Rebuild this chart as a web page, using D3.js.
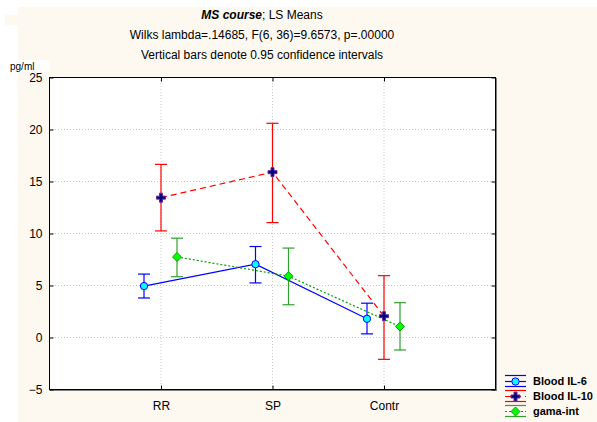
<!DOCTYPE html>
<html>
<head>
<meta charset="utf-8">
<script src="https://cdn.jsdelivr.net/npm/d3@7"></script>
<style>
  body { margin: 0; background: #fff; }
  svg { display: block; font-family: "Liberation Sans", Arial, sans-serif; }
</style>
</head>
<body>
<svg id="chart" width="597" height="422"></svg>
<script>
// data
const categories = ["RR", "SP", "Contr"];
const yTicks = [-5, 0, 5, 10, 15, 20, 25];

const il6Mean = [4.9, 7.0, 1.75],
    il6Lo = [3.75, 5.2, 0.3],
    il6Hi = [6.05, 8.7, 3.25];

const il10Mean = [13.4, 15.85, 2.0],
    il10Lo = [10.2, 11.0, -2.15],
    il10Hi = [16.6, 20.55, 5.9];

const gamaMean = [7.7, 5.85, 1.0],
    gamaLo = [5.8, 3.1, -1.25],
    gamaHi = [9.5, 8.55, 3.3];

const svg = d3.select("#chart"),
    margin = { top: 77, right: 102, bottom: 33, left: 49 },
    width = +svg.attr("width") - margin.left - margin.right,
    height = +svg.attr("height") - margin.top - margin.bottom;

// cream page background
svg.append("rect").attr("x", 18).attr("y", 7).attr("width", 579).attr("height", 415).attr("fill", "#fdf8f0");
svg.append("rect").attr("x", 5).attr("y", 15).attr("width", 14).attr("height", 10).attr("fill", "#fdf8f0");

const x = d3.scalePoint().domain(categories).range([0, width]).padding(1),
    y = d3.scaleLinear().domain([-5, 25]).range([height, 0]);

const g = svg.append("g").attr("transform", "translate(" + margin.left + "," + margin.top + ")");

g.append("rect").attr("width", width).attr("height", height).attr("fill", "#fff");

// grid
g.selectAll(".hgrid")
    .data(yTicks.filter(d => d > -5 && d < 25))
    .enter().append("line")
    .attr("x1", 0).attr("x2", width)
    .attr("y1", d => y(d) + 0.5).attr("y2", d => y(d) + 0.5)
    .attr("stroke", "#c8c8c8").attr("stroke-dasharray", "1,2");
g.selectAll(".vgrid")
    .data(categories)
    .enter().append("line")
    .attr("x1", d => x(d) + 0.5).attr("x2", d => x(d) + 0.5)
    .attr("y1", 0).attr("y2", height)
    .attr("stroke", "#c8c8c8").attr("stroke-dasharray", "1,2");

// frame with shadow
g.append("line").attr("x1", width + 1.5).attr("x2", width + 1.5).attr("y1", 1).attr("y2", height + 1).attr("stroke", "#808080");
g.append("line").attr("x1", 1).attr("x2", width + 2).attr("y1", height + 1.5).attr("y2", height + 1.5).attr("stroke", "#808080");
g.append("rect").attr("x", 0.5).attr("y", 0.5).attr("width", width).attr("height", height)
    .attr("fill", "none").attr("stroke", "#000");

// axes
const yAxis = g.append("g").attr("transform", "translate(0.5,0.5)")
    .call(d3.axisLeft(y).tickValues(yTicks).tickSize(-4).tickPadding(7));
const yAxisR = g.append("g").attr("transform", "translate(" + (width + 0.5) + ",0.5)")
    .call(d3.axisRight(y).tickValues(yTicks).tickSize(-4).tickFormat(""));
const xAxis = g.append("g").attr("transform", "translate(0.5," + (height + 0.5) + ")")
    .call(d3.axisBottom(x).tickSize(-4).tickPadding(12));
const xAxisT = g.append("g").attr("transform", "translate(0.5,0.5)")
    .call(d3.axisTop(x).tickSize(-4).tickFormat(""));
[yAxis, yAxisR, xAxis, xAxisT].forEach(a => {
    a.select(".domain").remove();
    a.selectAll("text").attr("font-size", 12).attr("font-family", "Liberation Sans, Arial, sans-serif").attr("fill", "#000");
});

// series
const diamond = { draw: (ctx, size) => { const r = Math.sqrt(size / 2); ctx.moveTo(0, -r); ctx.lineTo(r, 0); ctx.lineTo(0, r); ctx.lineTo(-r, 0); ctx.closePath(); } };
const series = [
    { name: "Blood IL-6", mean: il6Mean, lo: il6Lo, hi: il6Hi, dx: -17, line: "#0000ff", bar: "#0000ff",
      dash: null, symbol: d3.symbolCircle, size: 42, fill: "#00ffff", stroke: "#0000ff" },
    { name: "Blood IL-10", mean: il10Mean, lo: il10Lo, hi: il10Hi, dx: 0, line: "#ff0000", bar: "#ff0000",
      dash: "6,4", symbol: d3.symbolCross, size: 45, fill: "#000080", stroke: "#6a2a9a" },
    { name: "gama-int", mean: gamaMean, lo: gamaLo, hi: gamaHi, dx: 16, line: "#00a000", bar: "#30a030",
      dash: "2,2", symbol: diamond, size: 40, fill: "#00ff00", stroke: "#00a000" }
];

series.forEach(s => {
    const pts = categories.map((c, i) => ({ x: x(c) + s.dx + 0.5, m: s.mean[i], lo: s.lo[i], hi: s.hi[i] }));
    const line = d3.line().x(d => d.x).y(d => y(d.m));
    g.append("path").datum(pts).attr("d", line)
        .attr("fill", "none").attr("stroke", s.line).attr("stroke-width", 1.2)
        .attr("stroke-dasharray", s.dash);

    const eb = g.selectAll(null).data(pts).enter().append("g").attr("stroke", s.bar).attr("stroke-width", 1.2);
    eb.append("line").attr("x1", d => d.x).attr("x2", d => d.x).attr("y1", d => y(d.lo)).attr("y2", d => y(d.hi));
    eb.append("line").attr("x1", d => d.x - 6).attr("x2", d => d.x + 6).attr("y1", d => y(d.lo)).attr("y2", d => y(d.lo));
    eb.append("line").attr("x1", d => d.x - 6).attr("x2", d => d.x + 6).attr("y1", d => y(d.hi)).attr("y2", d => y(d.hi));
});

series.forEach(s => {
    const sym = d3.symbol().type(s.symbol).size(s.size);
    g.selectAll(null).data(categories).enter().append("path")
        .attr("d", sym)
        .attr("transform", (c, i) => "translate(" + (x(c) + s.dx + 0.5) + "," + y(s.mean[i]) + ")")
        .attr("fill", s.fill).attr("stroke", s.stroke).attr("stroke-width", 1);
});

// titles
const title = svg.append("g").attr("font-size", 12).attr("text-anchor", "middle").attr("fill", "#000");
const t1 = title.append("text").attr("x", 262).attr("y", 19);
t1.append("tspan").attr("font-weight", "bold").attr("font-style", "italic").text("MS course");
t1.append("tspan").text("; LS Means");
title.append("text").attr("x", 262).attr("y", 39).text("Wilks lambda=.14685, F(6, 36)=9.6573, p=.00000");
title.append("text").attr("x", 262).attr("y", 59).text("Vertical bars denote 0.95 confidence intervals");

// unit label
svg.append("rect").attr("x", 7).attr("y", 60).attr("width", 43).attr("height", 12).attr("fill", "#fff");
svg.append("text").attr("x", 10).attr("y", 70).attr("font-size", 10).text("pg/ml");

// legend
const legend = svg.append("g").attr("transform", "translate(505,381)");
series.forEach((s, i) => {
    const row = legend.append("g").attr("transform", "translate(0," + (i * 15) + ")");
    row.append("line").attr("x1", 0).attr("x2", 21).attr("y1", -5.5).attr("y2", -5.5).attr("stroke", s.bar).attr("stroke-width", 1.2);
    row.append("line").attr("x1", 0).attr("x2", 21).attr("y1", 5.5).attr("y2", 5.5).attr("stroke", s.bar).attr("stroke-width", 1.2);
    row.append("line").attr("x1", 0).attr("x2", 21).attr("y1", 0.5).attr("y2", 0.5).attr("stroke", s.line)
        .attr("stroke-width", 1.2).attr("stroke-dasharray", s.dash);
    row.append("path").attr("d", d3.symbol().type(s.symbol).size(s.size)()).attr("transform", "translate(10.5,0.5)")
        .attr("fill", s.fill).attr("stroke", s.stroke);
    row.append("text").attr("x", 28).attr("y", 4).attr("font-size", 11).attr("font-weight", "bold").text(s.name);
});
</script>
</body>
</html>
